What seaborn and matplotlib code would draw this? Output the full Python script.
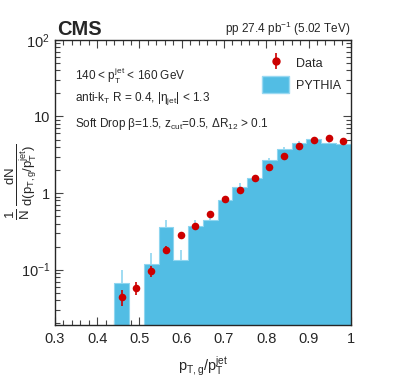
import numpy as np
import pandas as pd
import matplotlib
matplotlib.use("Agg")
import matplotlib.pyplot as plt
import seaborn as sns
from matplotlib.patches import Patch
from matplotlib.lines import Line2D
from matplotlib.ticker import FixedLocator, FixedFormatter, MultipleLocator, LogLocator, NullFormatter

# ---------------- data ----------------
bin_edges = [round(0.3 + 0.035 * i, 3) for i in range(21)]
mc_values = [0, 0, 0, 0, 0.067, 0, 0.118, 0.36, 0.134, 0.375,
             0.45, 0.80, 1.21, 1.55, 2.69, 3.71, 4.45, 5.02, 4.45, 4.40]
mc_errors = [0, 0, 0, 0, 0.033, 0, 0.048, 0.08, 0.046, 0.07,
             0.04, 0.04, 0.15, 0.06, 0.20, 0.27, 0.28, 0.15, 0.15, 0.12]
data_x = [0.4575, 0.4925, 0.5275, 0.5625, 0.5975, 0.6325, 0.6675, 0.7025,
          0.7375, 0.7725, 0.8075, 0.8425, 0.8775, 0.9125, 0.9475, 0.9825]
data_y = [0.044, 0.057, 0.096, 0.182, 0.286, 0.375, 0.533, 0.84,
          1.10, 1.58, 2.2, 3.03, 4.07, 4.92, 5.23, 4.83]
data_err = [0.010, 0.011, 0.015, 0.020, 0.015, 0.015, 0.02, 0.03,
            0.04, 0.05, 0.07, 0.09, 0.11, 0.12, 0.13, 0.12]
ytick_vals = [0.1, 1, 10, 100]
ytick_labels = ["$10^{-1}$", "1", "10", "$10^{2}$"]

# ---------------- style ----------------
sns.set_style("ticks")
plt.rcParams["font.family"] = ["Liberation Sans", "DejaVu Sans"]
plt.rcParams["mathtext.fontset"] = "custom"
plt.rcParams["mathtext.rm"] = "Liberation Sans"
plt.rcParams["mathtext.it"] = "Liberation Sans"
plt.rcParams["mathtext.bf"] = "Liberation Sans:bold"

MC_COLOR = "#52bde4"
MC_ERR = "#8fd6f0"
DATA_COLOR = "#cc0000"

fig = plt.figure(figsize=(4.07, 3.80), dpi=100)
ax = fig.add_axes([0.135, 0.145, 0.727, 0.75])
ax.set_yscale("log")

centers = [(bin_edges[i] + bin_edges[i + 1]) / 2 for i in range(len(mc_values))]
df_mc = pd.DataFrame({"x": centers, "w": mc_values})
sns.histplot(data=df_mc, x="x", weights="w", bins=bin_edges, element="step",
             fill=True, color=MC_COLOR, alpha=1.0, edgecolor="#8fd6f0",
             linewidth=0.8, ax=ax, zorder=1)

# MC stat errors (upper part visible above the fill)
for c, v, e in zip(centers, mc_values, mc_errors):
    if v > 0:
        ax.vlines(c, v, v + e, color=MC_ERR, lw=1.2, zorder=2)

# Data
ax.errorbar(data_x, data_y, yerr=data_err, fmt="none", ecolor=DATA_COLOR,
            elinewidth=1.2, zorder=3)
sns.scatterplot(x=data_x, y=data_y, color=DATA_COLOR, s=30, edgecolor=DATA_COLOR,
                linewidth=0, ax=ax, zorder=4)

ax.set_xlim(0.3, 1.0)
ax.set_ylim(0.019, 100)

# ticks
ax.xaxis.set_minor_locator(MultipleLocator(0.02))
ax.set_xticks([0.3, 0.4, 0.5, 0.6, 0.7, 0.8, 0.9, 1.0])
ax.set_xticklabels(["0.3", "0.4", "0.5", "0.6", "0.7", "0.8", "0.9", "1"])
ax.yaxis.set_major_locator(FixedLocator(ytick_vals))
ax.yaxis.set_major_formatter(FixedFormatter(ytick_labels))
ax.yaxis.set_minor_locator(LogLocator(base=10, subs=np.arange(2, 10), numticks=20))
ax.yaxis.set_minor_formatter(NullFormatter())
ax.tick_params(which="both", direction="in", top=True, right=True, width=0.8,
               labelsize=10.5, color="#444444")
ax.tick_params(which="major", length=6)
ax.tick_params(which="minor", length=3.5)
ax.tick_params(axis="x", pad=5)
for sp in ax.spines.values():
    sp.set_linewidth(1.0)

ax.set_xlabel(r"$\mathrm{p_{T,g}/p_{T}^{jet}}$", fontsize=10.5, loc="center", labelpad=6)
ax.set_ylabel("")
fig.text(0.052, 0.52, r"$\frac{1}{N}\,\frac{\mathrm{dN}}{\mathrm{d(p_{T,g}/p_{T}^{jet})}}$",
         rotation=90, ha="center", va="center", fontsize=13.5)

# header
fig.text(0.140, 0.908, "CMS", fontsize=14.5, fontweight="bold", ha="left", va="baseline")
fig.text(0.860, 0.912, r"pp 27.4 pb$^{-1}$ (5.02 TeV)", fontsize=8.5, ha="right", va="baseline")

# annotations
ax.text(0.069, 0.875, r"140 < p$_{T}^{jet}$ < 160 GeV", transform=ax.transAxes,
        fontsize=8.5, va="center", ha="left")
ax.text(0.069, 0.795, r"anti-k$_{T}$ R = 0.4, |$\eta_{jet}$| < 1.3", transform=ax.transAxes,
        fontsize=8.5, va="center", ha="left")
ax.text(0.069, 0.705, r"Soft Drop $\beta$=1.5, z$_{cut}$=0.5, $\Delta$R$_{12}$ > 0.1",
        transform=ax.transAxes, fontsize=8.5, va="center", ha="left")

# legend
h_data = Line2D([0], [0], color=DATA_COLOR, marker="o", markersize=5, lw=0)
h_data_err = Line2D([0], [0], color=DATA_COLOR, marker="|", markersize=11, lw=0, mew=1.2)
h_mc = Patch(facecolor=MC_COLOR, edgecolor="#9ad9f2")
leg = ax.legend(handles=[(h_data_err, h_data), h_mc], labels=["Data", "PYTHIA"],
                loc="upper left", bbox_to_anchor=(0.628, 0.872),
                bbox_transform=fig.transFigure, frameon=False, fontsize=9,
                handlelength=2.2, handleheight=1.7, labelspacing=0.35,
                handletextpad=0.5, borderpad=0)

fig.savefig("out.png", dpi=100)
